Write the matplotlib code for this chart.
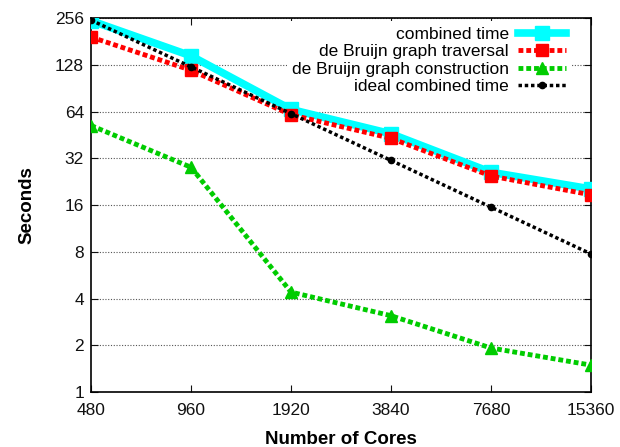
import matplotlib
matplotlib.use('Agg')
import matplotlib.pyplot as plt
from matplotlib.ticker import FixedLocator, NullLocator

plt.rcParams['font.family'] = ['Liberation Sans', 'DejaVu Sans']

# data
cores = [480, 960, 1920, 3840, 7680, 15360]
combined = [246, 146, 66, 46, 26, 20.3]
traversal = [193, 118, 61, 43, 24.6, 18.6]
construction = [52, 28, 4.4, 3.1, 1.92, 1.49]
ideal = [248, 124, 62, 31, 15.5, 7.75]

yticks = [1, 2, 4, 8, 16, 32, 64, 128, 256]

fig = plt.figure(figsize=(6.2, 4.47), dpi=100)
ax = fig.add_axes([0.1468, 0.123, 0.8064, 0.8367])

ax.set_xscale('log', base=2)
ax.set_yscale('log', base=2)

ax.plot(cores, combined, color='#00ffff', lw=5.5, marker='s', ms=10,
        label='combined time', zorder=3)
ax.plot(cores, traversal, color='#ff0000', lw=3.5, ls=(0, (1, 0.6)), marker='s', ms=8.5,
        label='de Bruijn graph traversal', zorder=4)
ax.plot(cores, construction, color='#00cc00', lw=3.5, ls=(0, (1, 0.6)), marker='^', ms=9,
        label='de Bruijn graph construction', zorder=4)
ax.plot(cores, ideal, color='black', lw=2.5, ls=(0, (1, 0.8)), marker='o', ms=4.5,
        label='ideal combined time', zorder=5)

ax.set_xlim(480, 15360)
ax.set_ylim(1, 256)
ax.xaxis.set_major_locator(FixedLocator(cores))
ax.xaxis.set_minor_locator(NullLocator())
ax.set_xticklabels([str(c) for c in cores])
ax.yaxis.set_major_locator(FixedLocator(yticks))
ax.yaxis.set_minor_locator(NullLocator())
ax.set_yticklabels([str(v) for v in yticks])
ax.tick_params(direction='in', top=True, right=True, length=5, width=0.8,
               labelsize=12.5, colors='#111111')
ax.tick_params(axis='x', pad=8)
ax.tick_params(axis='y', pad=5)

ax.grid(True, axis='y', ls=(0, (1, 1.5)), color='#555555', lw=0.8)
for s in ax.spines.values():
    s.set_linewidth(1.2)

ax.set_xlabel('Number of Cores', fontsize=13.5, fontweight='bold', labelpad=9)
ax.set_ylabel('Seconds', fontsize=13.5, fontweight='bold', labelpad=14)

leg = ax.legend(loc='upper right', bbox_to_anchor=(0.968, 1.0), fontsize=12.5,
                markerfirst=False, frameon=True, fancybox=False, borderpad=0.3,
                labelspacing=0.13, handlelength=2.8, handletextpad=0.5,
                borderaxespad=0.2)
leg.get_frame().set_edgecolor('none')
leg.get_frame().set_facecolor('white')
leg.get_frame().set_alpha(1)
for t in leg.get_texts():
    t.set_ha('right')

plt.savefig('out.png', dpi=100)
plt.close()
